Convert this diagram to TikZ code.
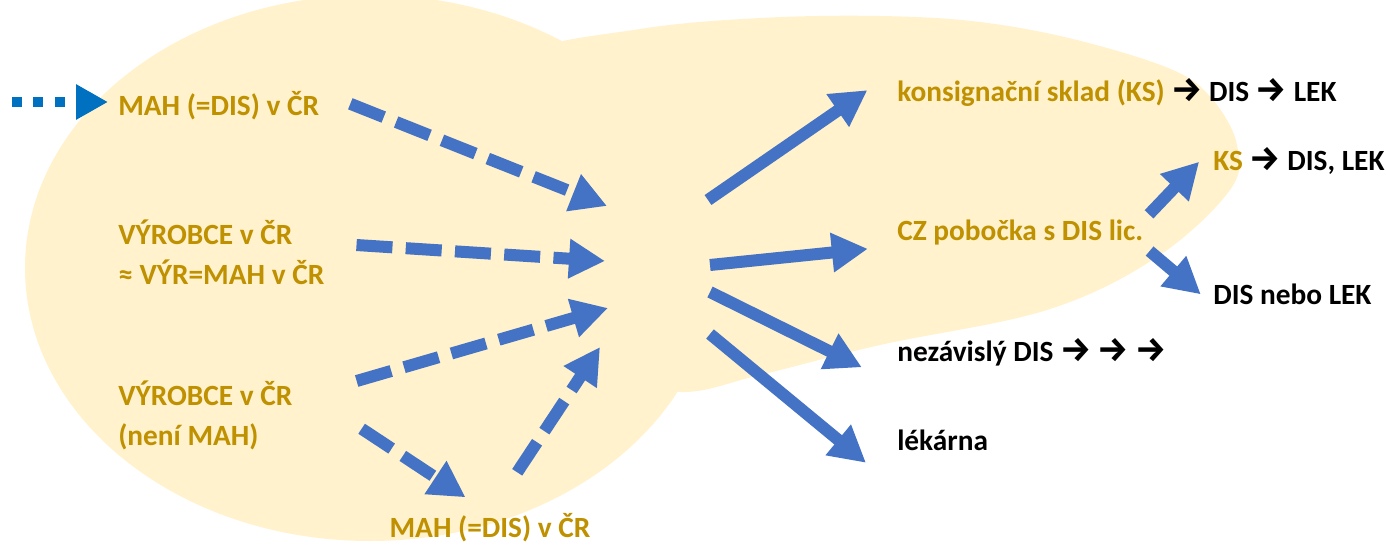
\documentclass[tikz,border=0pt]{standalone}
\usepackage{fontspec}
\setmainfont{Carlito}
\newfontfamily\arrowfont{Fira Sans}
\usepackage{xcolor}
\usetikzlibrary{arrows.meta}

\definecolor{blobfill}{HTML}{FFF2CC}
\definecolor{goldtext}{HTML}{BF9000}
\definecolor{flowblue}{HTML}{4472C4}
\definecolor{entryblue}{HTML}{0070C0}

\newcommand{\thickarr}{{\arrowfont\bfseries\fontsize{26}{30}\selectfont →}}

\begin{document}
\begin{tikzpicture}[
    x=0.75pt, y=-0.75pt,
    txt/.style={font=\bfseries\fontsize{22}{30}\selectfont, inner sep=0pt, anchor=west, align=left},
    gold/.style={txt, text=goldtext},
    plain/.style={txt, text=black},
    dasharrow/.style={line width=9pt, draw=flowblue, dash pattern=on 27pt off 10pt, -{Triangle[length=27pt,width=28pt]}},
    flowarrow/.style={line width=9pt, draw=flowblue, -{Triangle[length=27pt,width=28pt]}},
    entryarrow/.style={line width=7.5pt, draw=entryblue, dash pattern=on 7.5pt off 8.5pt, -{Triangle[length=24pt,width=25pt]}}
]
\useasboundingbox (0,0) rectangle (1386,546);
\clip (0,0) rectangle (1386,546);

% background blob
\fill[blobfill] (370,268) ellipse [x radius=345, y radius=273];
\fill[blobfill] plot[smooth cycle, tension=0.6] coordinates {
    (520,56) (640,29) (760,18) (880,16) (980,22) (1077,40) (1173,70)
    (1213,100) (1237,145) (1230,190) (1157,257) (1047,310) (880,345)
    (760,375) (680,392) (600,370) (560,250) (530,120)};

% sources
\node[gold] (src1) at (118,106) {MAH (=DIS) v ČR};
\node[gold] (src2) at (118,252) {VÝROBCE v ČR\\≈ VÝR=MAH v ČR};
\node[gold] (src3) at (118,415) {VÝROBCE v ČR\\(není MAH)};
\node[gold, anchor=center] (mah2) at (490,528) {MAH (=DIS) v ČR};

% targets
\node[plain] (ks) at (897,92) {\textcolor{goldtext}{konsignační sklad (KS)} \thickarr{} DIS \thickarr{} LEK};
\node[plain] (ks2) at (1213,161) {\textcolor{goldtext}{KS} \thickarr{} DIS, LEK};
\node[gold] (cz) at (897,233) {CZ pobočka s DIS lic.};
\node[plain] (dn) at (1213,294) {DIS nebo LEK};
\node[plain] (ind) at (897,352) {nezávislý DIS \thickarr{} \thickarr{} \thickarr};
\node[plain] (lek) at (897,440) {lékárna};

\coordinate (entry) at (12,102);
\coordinate (in1) at (607,206);
\coordinate (in2) at (605,261);
\coordinate (in3) at (608,308);
\coordinate (in4) at (600,347);
\coordinate (out1) at (708,200);
\coordinate (out2) at (710,265);
\coordinate (out3) at (710,292);
\coordinate (out4) at (710,334);

\draw[entryarrow, shorten >=7.5pt] (entry) -- (entry -| src1.west);
\draw[dasharrow, shorten <=25pt] (src1.north east) -- (in1);
\draw[dasharrow, shorten <=24pt] (src2.5) -- (in2);
\draw[dasharrow, shorten <=50pt] (src3.10) -- (in3);
\draw[dasharrow, shorten <=62pt, shorten >=22pt] (src3.20) -- (mah2.north);
\draw[dasharrow, shorten <=37pt] (mah2.north) -- (in4);

\draw[flowarrow, shorten >=27pt] (out1) -- ([yshift=6pt]ks.north west);
\draw[flowarrow, shorten >=22pt] (out2) -- (cz.south west);
\draw[flowarrow, shorten >=25pt] (out3) -- ([xshift=-4pt,yshift=-12pt]ind.south west);
\draw[flowarrow, shorten >=25pt] (out4) -- ([xshift=-4pt,yshift=-25pt]lek.south west);
\draw[flowarrow, shorten <=6pt, shorten >=15pt] (cz.north east) -- (ks2.north west);
\draw[flowarrow, shorten <=6pt, shorten >=12pt] (cz.south east) -- (dn.south west);
\end{tikzpicture}
\end{document}
